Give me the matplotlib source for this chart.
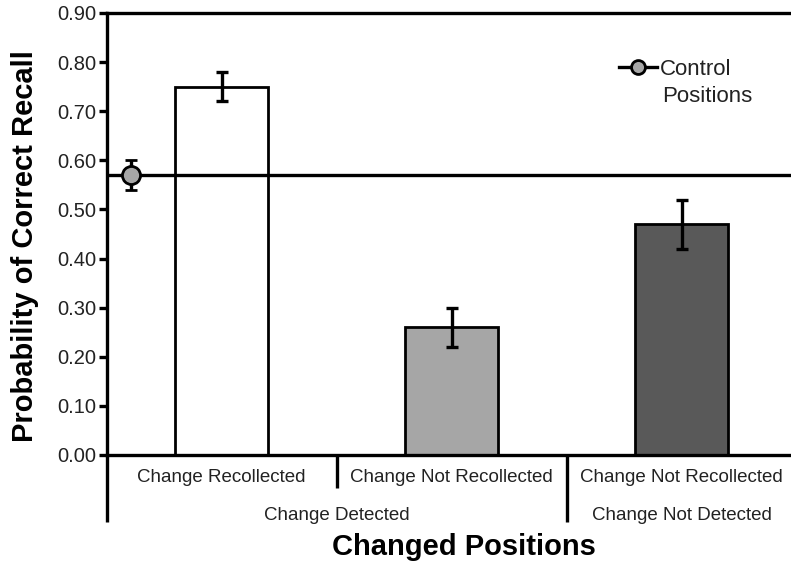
import numpy as np
import matplotlib.pyplot as plt
from matplotlib.lines import Line2D

# data
bar_labels = ["Change Recollected", "Change Not Recollected", "Change Not Recollected"]
group_labels = ["Change Detected", "Change Not Detected"]
bar_values = [0.75, 0.26, 0.47]
bar_errors = [0.03, 0.04, 0.05]
bar_colors = ["white", "#a6a6a6", "#595959"]
control_value = 0.57
control_error = 0.03
y_ticks = [0.0, 0.1, 0.2, 0.3, 0.4, 0.5, 0.6, 0.7, 0.8, 0.9]


def plot_chart():
    plt.rcParams['font.family'] = ['Liberation Sans', 'DejaVu Sans']
    fig = plt.figure(figsize=(7.91, 5.62), dpi=100)
    ax = fig.add_axes([0.1353, 0.1904, 0.8647, 0.7865])

    x = np.arange(1, len(bar_values) + 1)
    ax.bar(x, bar_values, width=0.404, color=bar_colors, edgecolor="black",
           linewidth=2.0, zorder=2)
    ax.errorbar(x, bar_values, yerr=bar_errors, fmt="none", ecolor="black",
                elinewidth=2.4, capsize=4, capthick=2.4, zorder=4)

    # control positions: horizontal reference line plus point with error bar
    ax.axhline(control_value, color="black", linewidth=2.4, zorder=3)
    ctrl_x = 0.607
    ax.errorbar([ctrl_x], [control_value], yerr=[control_error], fmt="o",
                color="black", markerfacecolor="#a6a6a6", markeredgecolor="black",
                markersize=13, markeredgewidth=2, elinewidth=2.4, capsize=4,
                capthick=2.4, zorder=5, clip_on=False)

    handle = Line2D([], [], color="black", linewidth=2.4, marker="o",
                    markerfacecolor="#a6a6a6", markeredgecolor="black",
                    markersize=10, markeredgewidth=2)
    ax.legend([handle], ["Control"], loc="center left",
              bbox_to_anchor=(0.7485, 0.872), frameon=False, fontsize=16,
              handlelength=1.7, handletextpad=0.15, borderpad=0,
              borderaxespad=0, labelcolor="#222222")
    ax.text(0.8114, 0.812, "Positions", transform=ax.transAxes, ha="left",
            va="center", fontsize=16, color="#222222")

    ax.set_xlim(0.502, 3.476)
    ax.set_ylim(0, 0.9)
    ax.set_yticks(y_ticks)
    ax.set_yticklabels([f"{t:.2f}" for t in y_ticks], fontsize=14.5, color="#222222")
    ax.tick_params(axis="y", direction="out", length=6, width=2.4, pad=2)
    ax.set_xticks([])

    for side in ["left", "top", "bottom"]:
        ax.spines[side].set_linewidth(2.4)
    ax.spines["right"].set_visible(False)

    ax.set_ylabel("Probability of Correct Recall", fontsize=21, fontweight="bold")
    ax.yaxis.set_label_coords(-0.0994, 0.4717)

    # hierarchical category labels below the axis
    trans = ax.get_xaxis_transform()
    lab_kw = dict(transform=trans, ha="center", va="center", fontsize=13.5,
                  color="#222222")
    for xi, lab in zip(x, bar_labels):
        ax.text(xi, -0.05, lab, **lab_kw)
    ax.text(1.5, -0.136, group_labels[0], **lab_kw)
    ax.text(3.0, -0.136, group_labels[1], **lab_kw)
    seps = [(0.502, -0.152), (1.5, -0.075), (2.5, -0.152)]
    for sx, depth in seps:
        ax.plot([sx, sx], [0, depth], transform=trans, color="black",
                linewidth=2.4, clip_on=False, solid_capstyle="butt")

    fig.text(0.586, 0.027, "Changed Positions", ha="center", va="center",
             fontsize=21, fontweight="bold")

    fig.savefig("out.png", dpi=100)
    plt.close(fig)


def main():
    plot_chart()


if __name__ == "__main__":
    main()
